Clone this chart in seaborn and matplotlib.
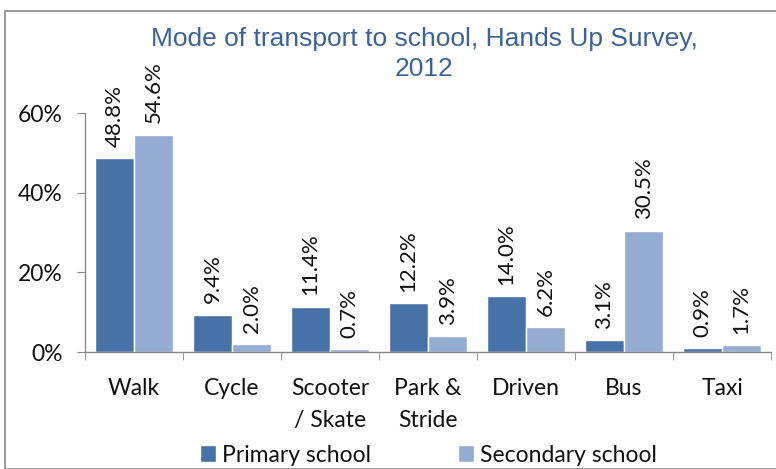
import matplotlib
matplotlib.use("Agg")
import matplotlib.pyplot as plt
import seaborn as sns
import pandas as pd
import numpy as np
from matplotlib.ticker import FixedLocator, PercentFormatter
from matplotlib.patches import Rectangle

categories = ["Walk", "Cycle", "Scooter\n/ Skate", "Park &\nStride", "Driven", "Bus", "Taxi"]
primary = [48.8, 9.4, 11.4, 12.2, 14.0, 3.1, 0.9]
secondary = [54.6, 2.0, 0.7, 3.9, 6.2, 30.5, 1.7]
series_names = ["Primary school", "Secondary school"]
colors = ["#4672A8", "#95ACD3"]
yticks = [0, 20, 40, 60]
title_lines = ["Mode of transport to school, Hands Up Survey,", "2012"]

df = pd.DataFrame({
    "mode": categories * 2,
    "value": primary + secondary,
    "school": [series_names[0]] * len(categories) + [series_names[1]] * len(categories),
})

sns.set_style("white")
plt.rcParams["font.family"] = ["Lato", "DejaVu Sans"]

FS = 16.5
fig = plt.figure(figsize=(7.76, 4.69), dpi=100)
ax = fig.add_axes([85/776, 117/469, 686/776, 239/469])

sns.barplot(data=df, x="mode", y="value", hue="school", palette=colors,
            width=0.8, saturation=1, ax=ax, errorbar=None, gap=0)

for cont in ax.containers:
    ax.bar_label(cont, labels=[f"{v:.1f}%" for v in cont.datavalues],
                 rotation=90, padding=8, fontsize=16, color="#111111")

ax.set_xlim(-0.5, len(categories) - 0.5)
ax.set_ylim(0, 60)
ax.set_yticks(yticks)
ax.yaxis.set_major_formatter(PercentFormatter(decimals=0))
ax.set_xlabel("")
ax.set_ylabel("")
for s in ["top", "right"]:
    ax.spines[s].set_visible(False)
for s in ["left", "bottom"]:
    ax.spines[s].set_color("#888888")
    ax.spines[s].set_linewidth(1)
ax.tick_params(axis="y", which="major", left=True, length=6, color="#888888",
               labelsize=FS, pad=10, labelcolor="#111111")
ax.tick_params(axis="x", which="major", bottom=False, labelsize=FS, pad=15.5,
               labelcolor="#111111")
for lab in ax.get_xticklabels():
    lab.set_linespacing(1.65)
ax.xaxis.set_minor_locator(FixedLocator(np.arange(-0.5, len(categories), 1.0)))
ax.tick_params(axis="x", which="minor", bottom=True, length=6, color="#888888")

leg = ax.legend(loc="center", bbox_to_anchor=(0.5, -0.431), ncol=2, frameon=False,
                fontsize=FS, handlelength=0.7, handleheight=0.7, handletextpad=0.26,
                columnspacing=3.8, borderaxespad=0)
for t in leg.get_texts():
    t.set_color("#111111")

for line, ypx in zip(title_lines, [39, 69]):
    fig.text(424/776, 1 - ypx/469, line, ha="center", va="center", fontsize=19,
             color="#3A639A", family=["Liberation Sans", "DejaVu Sans"])

fig.patches.append(Rectangle((5/776, 0), 1.2, 1 - 11/469, transform=fig.transFigure,
                             fill=False, edgecolor="#888888", linewidth=1.2))

fig.savefig("out.png", dpi=100)
